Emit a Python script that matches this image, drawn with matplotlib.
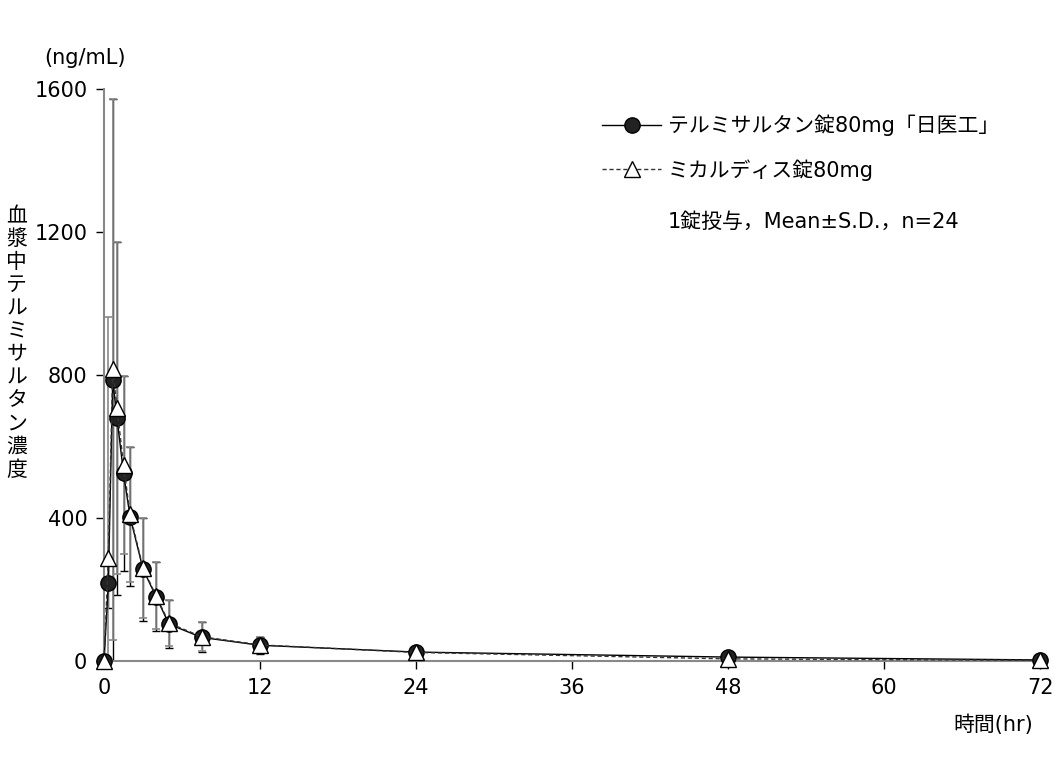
import numpy as np
import matplotlib
matplotlib.use('Agg')
from matplotlib import pyplot as plt

plt.rcParams['font.family'] = ['DejaVu Sans', 'Noto Sans CJK JP']

# sampling time (hr)
time_hr = [0, 0.33, 0.67, 1, 1.5, 2, 3, 4, 5, 7.5, 12, 24, 48, 72]

# テルミサルタン錠80mg「日医工」
mean_a = [0, 217, 786, 679, 525, 404, 257, 180, 103, 66, 44, 25, 11, 3]
sd_a = [0, 69, 786, 493, 272, 194, 144, 96, 68, 42, 23, 8, 5, 2]

# ミカルディス錠80mg
mean_b = [0, 287, 816, 707, 548, 410, 260, 183, 106, 68, 45, 24, 6, 2]
sd_b = [0, 674, 756, 465, 249, 188, 141, 93, 65, 40, 22, 8, 4, 2]

label_a = 'テルミサルタン錠80mg「日医工」'
label_b = 'ミカルディス錠80mg'
note = '1錠投与，Mean±S.D.，n=24'

x_ticks = [0, 12, 24, 36, 48, 60, 72]
y_ticks = [0, 400, 800, 1200, 1600]

fig = plt.figure(figsize=(10.53, 7.83), dpi=100)
ax = fig.add_axes([0.0988, 0.1558, 0.8889, 0.7305])

# error bars
ax.errorbar(time_hr, mean_a, yerr=sd_a, fmt='none', ecolor='black',
            elinewidth=1.0, capsize=3, capthick=1.0, zorder=2)
ax.errorbar(time_hr, mean_b, yerr=sd_b, fmt='none', ecolor='#888888',
            elinewidth=1.2, capsize=3, capthick=1.2, zorder=2)

# mean curves
ax.plot(time_hr, mean_a, '-', color='black', lw=1.0, marker='o', markersize=11,
        markerfacecolor='#222222', markeredgecolor='black', markeredgewidth=1.0,
        label=label_a, clip_on=False, zorder=3)
ax.plot(time_hr, mean_b, color='#333333', lw=1.0, linestyle=(0, (3, 2)),
        marker='^', markersize=12, markerfacecolor='white',
        markeredgecolor='black', markeredgewidth=1.0,
        label=label_b, clip_on=False, zorder=4)

ax.set_xlim(0, 72)
ax.set_ylim(0, 1600)
ax.set_xticks(x_ticks)
ax.set_yticks(y_ticks)
ax.set_xticklabels([str(v) for v in x_ticks], fontsize=15)
ax.set_yticklabels([str(v) for v in y_ticks], fontsize=15)
ax.tick_params(direction='out', length=6, width=1, color='black', pad=6)

for side in ['top', 'right']:
    ax.spines[side].set_visible(False)
for side in ['left', 'bottom']:
    ax.spines[side].set_color('#888888')
    ax.spines[side].set_linewidth(1.5)

# axis labels
fig.text(0.016, 0.562, '\n'.join('血漿中テルミサルタン濃度'), fontsize=15,
         family='Noto Sans CJK JP', ha='center', va='center', linespacing=1.06)
fig.text(0.081, 0.926, '(ng/mL)', fontsize=15, ha='center', va='center')
fig.text(0.981, 0.074, '時間(hr)', fontsize=15, ha='right', va='center')

leg = ax.legend(loc='upper left', bbox_to_anchor=(0.5235, 0.970), frameon=False,
                fontsize=15, handlelength=2.8, handletextpad=0.35,
                labelspacing=1.1, borderaxespad=0)
fig.text(0.634, 0.717, note, fontsize=15, ha='left', va='center')

plt.savefig('out.png', dpi=100)
